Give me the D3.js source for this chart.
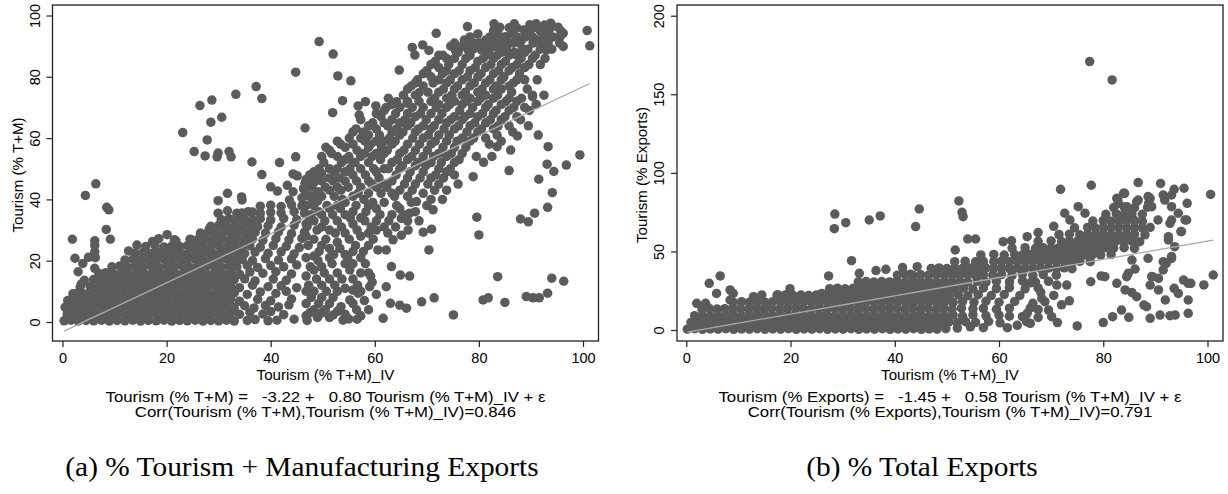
<!DOCTYPE html>
<html>
<head>
<meta charset="utf-8">
<script src="https://cdn.jsdelivr.net/npm/d3@7"></script>
<style>
    html, body { margin: 0; padding: 0; background: #fff; }
    svg { display: block; }
    .sans { font-family: "Liberation Sans", Arial, Helvetica, sans-serif; fill: #000; }
    .caption { font-family: "Liberation Serif", "Times New Roman", serif; fill: #000; }
</style>
</head>
<body>
<div id="chart"></div>
<script>
"use strict";

// Axis ticks and annotation text.
const xTicks = [0, 20, 40, 60, 80, 100];
const yTicksA = [0, 20, 40, 60, 80, 100];
const yTicksB = [0, 50, 100, 150, 200];
const xTitle = "Tourism (% T+M)_IV";
const yTitleA = "Tourism (% T+M)";
const yTitleB = "Tourism (% Exports)";
const fitA = [-3.22, 0.80]; // intercept, slope
const fitB = [-1.45, 0.58];
const notesA = [
    "Tourism (% T+M) =   -3.22 +   0.80 Tourism (% T+M)_IV + \u03b5",
    "Corr(Tourism (% T+M),Tourism (% T+M)_IV)=0.846"
];
const notesB = [
    "Tourism (% Exports) =   -1.45 +   0.58 Tourism (% T+M)_IV + \u03b5",
    "Corr(Tourism (% Exports),Tourism (% T+M)_IV)=0.791"
];
const captionA = "(a) % Tourism + Manufacturing Exports";
const captionB = "(b) % Total Exports";

// Panel (a): [IV share, tourism % of T+M]. The solid low cloud first.
const denseA = [
    [0.3,0.4],[1.6,0.6],[3,0.3],[4.5,0.5],[6,0.4],[7.5,0.6],[9,0.3],[10.5,0.5],[12,0.4],[13.5,0.6],[15,0.3],[16.5,0.5],[18,0.4],[19.5,0.6],[21,0.3],[22.5,0.5],[24,0.4],[25.5,0.6],[27,0.3],[28.5,0.5],[30,0.4],[31.5,0.6],[33,0.3],[35.5,0.5],[37,0.8],[39.5,0.4],[41.2,0.6],[44.5,0.9],[47,0.5],
    [0.9,2.6],[2.3,2.8],[3.8,2.5],[5.3,2.9],[6.8,2.6],[8.3,2.8],[9.8,2.5],[11.3,2.9],[12.8,2.6],[14.3,2.8],[15.8,2.5],[17.3,2.9],[18.8,2.6],[20.3,2.8],[21.8,2.5],[23.3,2.9],[24.8,2.6],[26.3,2.8],[27.8,2.5],[29.3,2.9],[30.8,2.6],[32.3,2.8],[34,2.5],[36,3.2],[38.5,2.6],[40,3.4],[42.5,2.4],
    [0.5,4.8],[1.6,5.1],[3,4.7],[4.5,5],[6,4.8],[7.5,5.1],[9,4.7],[10.5,5],[12,4.8],[13.5,5.1],[15,4.7],[16.5,5],[18,4.8],[19.5,5.1],[21,4.7],[22.5,5],[24,4.8],[25.5,5.1],[27,4.7],[28.5,5],[30,4.8],[31.5,5.1],[33,4.7],[35,5.3],[36.8,4.6],[39,5.4],[41.5,4.9],[43.5,5.6],
    [1,7],[2.3,7.3],[3.8,6.9],[5.3,7.2],[6.8,7],[8.3,7.3],[9.8,6.9],[11.3,7.2],[12.8,7],[14.3,7.3],[15.8,6.9],[17.3,7.2],[18.8,7],[20.3,7.3],[21.8,6.9],[23.3,7.2],[24.8,7],[26.3,7.3],[27.8,6.9],[29.3,7.2],[30.8,7],[32.3,7.3],[34,6.8],[37.5,7.4],[40,6.9],[44,7.5],
    [2,9.2],[3,9.5],[4.5,9.1],[6,9.4],[7.5,9.2],[9,9.5],[10.5,9.1],[12,9.4],[13.5,9.2],[15,9.5],[16.5,9.1],[18,9.4],[19.5,9.2],[21,9.5],[22.5,9.1],[24,9.4],[25.5,9.2],[27,9.5],[28.5,9.1],[30,9.4],[31.5,9.2],[33,9.5],[35.5,9],[38,9.8],[41,9.3],[43,10],
    [3.4,11.4],[5.3,11.7],[6.8,11.3],[8.3,11.6],[9.8,11.4],[11.3,11.7],[12.8,11.3],[14.3,11.6],[15.8,11.4],[17.3,11.7],[18.8,11.3],[20.3,11.6],[21.8,11.4],[23.3,11.7],[24.8,11.3],[26.3,11.6],[27.8,11.4],[29.3,11.7],[30.8,11.3],[32.3,11.6],[34,11.2],[36.5,12],[39.5,11.5],[42,11.8],[45,11.2],
    [4.2,13.6],[6,13.9],[7.5,13.5],[9,13.8],[10.5,13.6],[12,13.9],[13.5,13.5],[15,13.8],[16.5,13.6],[18,13.9],[19.5,13.5],[21,13.8],[22.5,13.6],[24,13.9],[25.5,13.5],[27,13.8],[28.5,13.6],[30,13.9],[31.5,13.5],[33,13.8],[35,14.1],[37,13.4],[40.5,14],[43,13.6],
    [7,15.8],[8.3,16.1],[9.8,15.7],[11.3,16],[12.8,15.8],[14.3,16.1],[15.8,15.7],[17.3,16],[18.8,15.8],[20.3,16.1],[21.8,15.7],[23.3,16],[24.8,15.8],[26.3,16.1],[27.8,15.7],[29.3,16],[30.8,15.8],[32.3,16.1],[34,15.6],[36,16.3],[38.5,15.9],[41,16.4],[44,15.7],
    [9.5,18],[11,18.3],[12.5,17.9],[14,18.2],[15.5,18],[17,18.3],[18.5,17.9],[20,18.2],[21.5,18],[23,18.3],[24.5,17.9],[26,18.2],[27.5,18],[29,18.3],[30.5,17.9],[32,18.2],[33.5,18],[35.5,18.5],[37.5,17.8],[40,18.4],[42.5,18],[45,18.6],
    [12,20.2],[13.5,20.5],[15,20.1],[16.5,20.4],[18,20.2],[19.5,20.5],[21,20.1],[22.5,20.4],[24,20.2],[25.5,20.5],[27,20.1],[28.5,20.4],[30,20.2],[31.5,20.5],[33,20.1],[34.5,20.4],[36.5,20],[39,20.7],[41.5,20.2],[44,20.6],
    [14,22.4],[15.5,22.7],[17,22.3],[18.5,22.6],[20,22.4],[21.5,22.7],[23,22.3],[24.5,22.6],[26,22.4],[27.5,22.7],[29,22.3],[30.5,22.6],[32,22.4],[33.5,22.7],[35,22.3],[37,22.8],[39.5,22.4],[42,22.9],[44.5,22.2],
    [16,24.6],[17.8,24.9],[19.5,24.5],[21,24.8],[22.5,24.6],[24,24.9],[25.5,24.5],[27,24.8],[28.5,24.6],[30,24.9],[31.5,24.5],[33,24.8],[34.5,24.6],[36,24.9],[38,24.4],[40.5,25],[43,24.7],[45.5,24.3],
    [21.5,26.8],[24.5,27],[26,26.7],[27.5,27.1],[29,26.8],[30.5,27],[32,26.7],[33.5,27.1],[35,26.8],[36.5,27],[38.5,26.6],[41,27.2],[43.5,26.8],[46,27.3],
    [26.5,29],[28,29.3],[29.5,28.9],[31,29.2],[32.5,29],[34,29.3],[35.5,28.9],[37,29.2],[39,29],[41.5,29.4],[44,28.8],[46.5,29.3],
    [28.5,31.2],[30,31.5],[31.5,31.1],[33,31.4],[34.5,31.2],[36,31.5],[37.5,31.1],[39.5,31.4],[42,31],[44.5,31.6],[47,31.2],
    [30.5,33.4],[32,33.7],[33.5,33.3],[35,33.6],[36.5,33.4],[38,33.7],[40,33.3],[42.5,33.8],[45,33.4],[47.5,33.7],
    [34.5,35.6],[36.5,35.9],[38,35.5],[40,35.8],[42,35.6],[44.5,36],[46.5,35.5],
    [38,37.8],[40,38.1],[42,37.7],[44,38.2],[46,37.9],[48,38.3]
];

// Panel (a): the rising band of mid and high tourism shares.
const bandA = [
    [46,40.5],[46.3,43.5],
    [46.8,2],[46.8,6],[46.8,10],[46.8,15],[46.8,21],[46.8,28],[46.8,32],[46.8,38],[46.8,42],[46.8,46.5],
    [47.5,3],[47.8,8],[47.3,12],[47.6,18],[47.2,25],[47.7,35],[47.4,41],[47.9,44],[47.5,48],
    [48.3,4],[48.3,10],[48.3,17],[48.3,21.5],[48.3,27],[48.3,33],[48.3,38],[48.3,41],[48.3,45.5],[48.3,49],
    [49,1.5],[49.2,6],[48.8,14],[49.1,20],[49.3,23],[48.9,30],[49.2,36],[49,39.5],[49.1,42.5],[48.8,47],[49.3,50],
    [49.8,3],[49.8,8],[49.8,12],[49.8,18],[49.8,25],[49.8,31],[49.8,35],[49.8,41],[49.8,46],[49.8,48.5],[49.8,54],
    [50.5,4],[50.7,10],[50.3,16],[50.6,27],[50.4,33],[50.8,38],[50.5,44],[50.2,52],[50.6,57],
    [51.3,1.5],[51.3,6],[51.3,14],[51.3,21],[51.3,24],[51.3,30],[51.3,37],[51.3,43],[51.3,47],[51.3,50],[51.3,56],
    [52,8],[52.3,12],[51.8,19],[52.1,22],[52.4,29],[51.9,35],[52.2,41],[52,46],[52.3,49],[51.7,55],
    [52.8,3.5],[52.8,10],[52.8,16],[52.8,26],[52.8,33],[52.8,38],[52.8,44],[52.8,50],[52.8,54],[52.8,59],
    [53.5,5],[53.7,14],[53.3,24],[53.6,31],[53.4,37],[53.8,40],[53.5,43],[53.2,47],[53.6,52],[53.4,58],
    [54.3,2.5],[54.3,11],[54.3,19],[54.3,22],[54.3,29],[54.3,35],[54.3,39],[54.3,46],[54.3,49],[54.3,53],[54.3,57],
    [55,1],[55.2,17],[54.8,21],[55.1,27],[55.3,34],[54.9,44],[55.2,50],[55,54],[55.1,60],
    [55.8,6],[55.8,14],[55.8,19],[55.8,23],[55.8,32],[55.8,36],[55.8,41],[55.8,48],[55.8,52],[55.8,58],[55.8,62],
    [56.5,4],[56.7,12],[56.3,25],[56.6,30],[56.4,38],[56.8,42],[56.5,46],[56.2,52],[56.6,56],[56.4,63],
    [57.3,2],[57.3,10],[57.3,16],[57.3,21],[57.3,28],[57.3,34],[57.3,44],[57.3,50],[57.3,54],[57.3,60],[57.3,66],
    [58,7],[58.2,19],[57.8,23],[58.1,33],[58.3,36],[57.9,40],[58.2,48],[58,55],[58.1,59],[57.8,62],
    [58.8,4],[58.8,16],[58.8,25],[58.8,29],[58.8,38],[58.8,42],[58.8,46],[58.8,52],[58.8,57],[58.8,61],[58.8,64],
    [59.5,13],[59.7,27],[59.3,31],[59.6,39],[59.4,45],[59.8,50],[59.5,54],[59.2,58],[59.6,65],
    [60.3,9],[60.3,30],[60.3,33],[60.3,37],[60.3,44],[60.3,49],[60.3,55],[60.3,59],[60.3,63],[60.3,68],
    [61,35],[61.2,42],[60.8,47],[61.1,53],[61.3,57],[60.9,61],[61.2,67],
    [61.8,31],[61.8,39],[61.8,45],[61.8,50],[61.8,55],[61.8,59],[61.8,65],[61.8,69],
    [62.5,29],[62.7,33],[62.3,44],[62.6,50],[62.4,56],[62.8,60],[62.5,64],[62.2,70],
    [63.3,35],[63.3,42],[63.3,46],[63.3,52],[63.3,58],[63.3,62],[63.3,66],[63.3,71],
    [64,31],[64.2,38],[63.8,41],[64.1,48],[64.3,53],[63.9,59],[64.2,63],[64,68],
    [64.8,37],[64.8,43],[64.8,50],[64.8,55],[64.8,61],[64.8,65],[64.8,70],
    [65.5,35],[65.7,45],[65.3,51],[65.6,56],[65.4,62],[65.8,66],[65.5,74],
    [66.3,33],[66.3,41],[66.3,47],[66.3,53],[66.3,58],[66.3,64],[66.3,68],[66.3,72],[66.3,76],
    [67,39],[67.2,43],[66.8,49],[67.1,54],[67.3,60],[66.9,65],[67.2,70],[67,77],
    [67.8,36],[67.8,45],[67.8,51],[67.8,56],[67.8,62],[67.8,67],[67.8,74],[67.8,78],
    [68.5,33],[68.7,47],[68.3,52],[68.6,58],[68.4,63],[68.8,68],[68.5,72],[68.2,79],
    [69.3,42],[69.3,49],[69.3,54],[69.3,60],[69.3,64],[69.3,70],[69.3,77],[69.3,81],
    [70,38],[70.2,45],[69.8,51],[70.1,56],[70.3,61],[69.9,66],[70.2,75],[70,82],
    [70.8,40],[70.8,47],[70.8,52],[70.8,58],[70.8,63],[70.8,68],[70.8,72],[70.8,80],[70.8,84],
    [71.5,43],[71.7,48],[71.3,54],[71.6,59],[71.4,64],[71.8,70],[71.5,73],[71.2,78],[71.6,85],
    [72.3,45],[72.3,50],[72.3,55],[72.3,61],[72.3,66],[72.3,71],[72.3,75],[72.3,79],[72.3,83],[72.3,87],
    [73,40],[73.2,47],[72.8,52],[73.1,57],[73.3,63],[72.9,68],[73.2,76],[73,81],[73.1,87],
    [73.8,43],[73.8,49],[73.8,54],[73.8,59],[73.8,65],[73.8,70],[73.8,73],[73.8,78],[73.8,82],[73.8,86],
    [74.5,50],[74.7,55],[74.3,61],[74.6,66],[74.4,71],[74.8,74],[74.5,79],[74.2,84],[74.6,90],
    [75.3,48],[75.3,52],[75.3,57],[75.3,63],[75.3,67],[75.3,72],[75.3,76],[75.3,81],[75.3,86],[75.3,91],
    [76,45],[76.2,53],[75.8,59],[76.1,64],[76.3,69],[75.9,77],[76.2,82],[76,88],
    [76.8,55],[76.8,60],[76.8,66],[76.8,71],[76.8,74],[76.8,79],[76.8,84],[76.8,90],
    [77.5,57],[77.7,62],[77.3,67],[77.6,72],[77.4,75],[77.8,80],[77.5,86],[77.2,92],
    [78.3,59],[78.3,64],[78.3,68],[78.3,73],[78.3,77],[78.3,82],[78.3,87],[78.3,93],
    [79,60],[79.2,65],[78.8,70],[79.1,78],[79.3,83],[78.9,89],
    [79.8,62],[79.8,67],[79.8,72],[79.8,75],[79.8,80],[79.8,85],[79.8,91],[79.8,94],
    [80.5,63],[80.7,68],[80.3,73],[80.6,76],[80.4,81],[80.8,86],[80.5,91],
    [81.3,60],[81.3,65],[81.3,70],[81.3,74],[81.3,78],[81.3,83],[81.3,87],[81.3,92],
    [82,58],[82.2,66],[81.8,71],[82.1,79],[82.3,84],[81.9,88],[82.1,93],
    [82.8,63],[82.8,68],[82.8,73],[82.8,76],[82.8,81],[82.8,86],[82.8,90],[82.8,95],
    [83.5,61],[83.7,64],[83.3,69],[83.6,74],[83.4,77],[83.8,82],[83.5,87],[83.2,90],[83.6,95],
    [84.3,59],[84.3,66],[84.3,71],[84.3,76],[84.3,79],[84.3,84],[84.3,88],[84.3,92],
    [85,67],[85.2,72],[84.8,80],[85.1,85],[85.3,89],[84.9,93],
    [85.8,64],[85.8,69],[85.8,73],[85.8,77],[85.8,82],[85.8,87],[85.8,91],[85.8,96],
    [86.5,62],[86.7,70],[86.3,75],[86.6,78],[86.4,83],[86.8,88],[86.5,94],
    [87.3,67],[87.3,72],[87.3,79],[87.3,84],[87.3,87],[87.3,93],[87.3,96],
    [88,66],[88.2,73],[87.8,81],[88.1,86],[88.3,89],
    [88.8,70],[88.8,79],[88.8,83],[88.8,88],[88.8,93],
    [89.5,64],[89.7,69],[89.3,76],[89.6,84],[89.4,89],[89.8,97],
    [90.3,74],[90.3,86],[90.3,93],
    [91,71],[91.2,79],[90.8,87],[91.1,92],
    [91.8,84],[91.8,89],[91.8,95],
    [92.5,74],[92.7,86],[92.3,94],
    [93.3,91],[93.3,95],
    [94,89],[94.2,93],[93.8,97.5],
    [95.5,91],[95.7,95]
];

// Panel (a): isolated points away from the main cloud.
const outliersA = [
    [44.8,81.5],[37.2,76.8],[38.3,72.9],[33.3,74.3],[28.7,72.4],[26.4,70.6],[30.6,66.8],[28.5,65.2],[23.1,61.8],[27.8,59.4],[46.6,63.3],
    [25.3,55.6],[27.4,54.2],[29.9,55.1],[29.7,53.9],[32,55.6],[32.4,53.9],[36.4,52.2],[41.7,52],[44.8,53.9],[38.3,48.1],[44.3,48.3],[45.1,47.7],
    [40,44.1],[41.3,42.7],[43.2,44.6],[44.3,42.5],[46.6,45.3],[31.7,42],[29.9,39.6],[34.4,40.8],[34.5,39.8],[43.6,39.8],
    [6.4,45.1],[4.4,41.3],[8.5,37.4],[8.9,36.6],[8.4,30.2],[9.2,27],[1.9,27],[6.2,26.5],[6.2,25],[6.2,22.9],[6.3,21],[6.2,17.5],
    [5,21.1],[2.4,20.8],[3.9,19.1],[3,16.4],[3.6,12.4],[12.7,23.2],[14.3,25.1],[17.3,26.3],[18.5,27.2],[20.1,28.5],[21.8,26.4],
    [29.9,35.5],[31.7,36.3],[33.5,35.5],[35.7,36],[28.2,30.4],[24.8,26.8],[26.4,27.8],
    [100.8,95.1],[101.3,90.1],[99.4,54.5],[96.8,51.2],[94.4,49.1],[93.1,51.5],[91.5,46.6],[94.1,42.2],[93.2,37.4],[90.7,35.5],[89.5,32.7],[88,33.6],
    [93.3,57.2],[91.4,61],[90.3,73.5],[85.8,49.4],[86.1,56.1],[87.4,60.7],[83.5,57.2],[82.5,54],[80.9,52.1],[79.5,54],[78.9,47.4],[79.6,34.2],[80,28.4],
    [71.2,36.6],[70.9,30.3],[69.3,29.3],[70.4,23.5],[68,39.3],[66.7,35.5],[65.1,33.8],[66.4,30],[65.1,28.3],[63.5,26.8],[62.2,23.5],[60.6,23.5],
    [59.2,15],[59,11.5],[66.7,15],[64.9,15.3],[63.2,18.1],[62.2,11.5],[69,6.6],[71.4,7.9],[80.8,7.2],[81.8,7.9],[83.6,14.8],[85,6.4],
    [89.1,8.3],[90.4,7.9],[91.6,7.9],[93.2,9.4],[94,14.3],[96.3,13.3],[75.1,2.3],[61.6,1.2],[63,6.1],[64.8,5.5],[66.1,4.5],
    [55.2,7.2],[55.8,10.4],[56.8,9.4],[53.9,0.6],[52,2.3],[56.6,0.9],[96.2,89.9],
    [77.8,96.4],[82.9,97.3],[84,96.2],[86.8,97.3],[88.6,95.3],[89.6,94.2],[90.4,95.9],[91,97.3],[92.6,96.9],[93.7,95.9],[95.2,96.2],[96.2,94.2],
    [95.6,93.1],[93.3,93.1],[92.3,91.5],[92,89.9],[93,88.8],[90.4,91],[89.1,93.1],[88.2,92],[87.9,91],[86.6,91],[85.3,89.9],[84.3,90.4],
    [85.3,93.1],[83.4,93.7],[82.7,92],[81.5,89.9],[80.5,88.8],[78.9,91],[77.9,90.4],[77.9,88.8],[71.8,94.2],[75.5,88.6],
    [67.2,89.6],[67.7,87.1],[69.2,90.4],[70.4,88.6],
    [51.9,68.3],[53.8,72.2],[56.8,70.5],[58.2,71.9],[57,67.5],[60.2,70.5],[62.6,73],[64.2,71.9],[66.2,71.4],[68.5,74.8],
    [64.7,82.2],[52.9,80.3],[55.4,78.7],[52,87.4],[49.3,91.5]
];

// Panel (b): [IV share, tourism % of total exports]. Low cloud.
const denseB = [
    [0.2,0.5],[1.6,0.8],[3.1,0.4],[4.6,0.7],[6.1,0.5],[7.6,0.8],[9.1,0.4],[10.6,0.7],[12.1,0.5],[13.6,0.8],[15.1,0.4],[16.6,0.7],[18.1,0.5],[19.6,0.8],[21.1,0.4],[22.6,0.7],[24.1,0.5],[25.6,0.8],[27.1,0.4],[28.6,0.7],[30.1,0.5],[31.6,0.8],[33.1,0.4],[34.6,0.7],[36.1,0.5],[37.6,0.8],[39.1,0.4],[40.6,0.7],[42.1,0.5],[43.6,0.8],[45.1,0.4],[46.6,0.7],[48.1,0.5],[49.8,0.8],[52,1.2],[54.5,2],[57,1.5],
    [0.9,4.8],[2.4,5.1],[3.9,4.7],[5.4,5],[6.9,4.8],[8.4,5.1],[9.9,4.7],[11.4,5],[12.9,4.8],[14.4,5.1],[15.9,4.7],[17.4,5],[18.9,4.8],[20.4,5.1],[21.9,4.7],[23.4,5],[24.9,4.8],[26.4,5.1],[27.9,4.7],[29.4,5],[30.9,4.8],[32.4,5.1],[33.9,4.7],[35.4,5],[36.9,4.8],[38.4,5.1],[39.9,4.7],[41.4,5],[42.9,4.8],[44.4,5.1],[45.9,4.7],[47.4,5],[48.9,4.8],[50.4,5.1],[52,4.6],[53.6,5.3],[55.5,4.8],[58,5.4],[60.2,4.6],
    [1.6,9.1],[3.1,9.4],[4.6,9],[6.1,9.3],[7.6,9.1],[9.1,9.4],[10.6,9],[12.1,9.3],[13.6,9.1],[15.1,9.4],[16.6,9],[18.1,9.3],[19.6,9.1],[21.1,9.4],[22.6,9],[24.1,9.3],[25.6,9.1],[27.1,9.4],[28.6,9],[30.1,9.3],[31.6,9.1],[33.1,9.4],[34.6,9],[36.1,9.3],[37.6,9.1],[39.1,9.4],[40.6,9],[42.1,9.3],[43.6,9.1],[45.1,9.4],[46.6,9],[48.1,9.3],[49.6,9.1],[51.2,9.5],[53,8.8],[55,9.6],[57.5,9],[60,9.4],[62,8.8],
    [3,13.4],[4.4,13.7],[5.9,13.3],[7.4,13.6],[8.9,13.4],[10.4,13.7],[11.9,13.3],[13.4,13.6],[14.9,13.4],[16.4,13.7],[17.9,13.3],[19.4,13.6],[20.9,13.4],[22.4,13.7],[23.9,13.3],[25.4,13.6],[26.9,13.4],[28.4,13.7],[29.9,13.3],[31.4,13.6],[32.9,13.4],[34.4,13.7],[35.9,13.3],[37.4,13.6],[38.9,13.4],[40.4,13.7],[41.9,13.3],[43.4,13.6],[44.9,13.4],[46.4,13.7],[47.9,13.3],[49.4,13.6],[51,13.2],[52.8,13.9],[55,13.4],[57,13.8],[59.5,13.2],[62,13.9],
    [9,17.7],[10.6,18],[12.1,17.6],[13.6,17.9],[15.1,17.7],[16.6,18],[18.1,17.6],[19.6,17.9],[21.1,17.7],[22.6,18],[24.1,17.6],[25.6,17.9],[27.1,17.7],[28.6,18],[30.1,17.6],[31.6,17.9],[33.1,17.7],[34.6,18],[36.1,17.6],[37.6,17.9],[39.1,17.7],[40.6,18],[42.1,17.6],[43.6,17.9],[45.1,17.7],[46.6,18],[48.1,17.6],[49.6,17.9],[51.2,17.5],[53,18.2],[55.2,17.6],[57.5,18.3],[60,17.7],[63,18.2],
    [17.4,22],[19,22.3],[20.5,21.9],[22,22.2],[23.5,22],[25,22.3],[26.5,21.9],[28,22.2],[29.5,22],[31,22.3],[32.5,21.9],[34,22.2],[35.5,22],[37,22.3],[38.5,21.9],[40,22.2],[41.5,22],[43,22.3],[44.5,21.9],[46,22.2],[47.5,22],[49,22.3],[50.5,21.9],[52.2,22.4],[54,21.8],[56,22.5],[58.5,21.9],[61,22.6],[64,22],
    [27.5,26.3],[29,26.6],[30.5,26.2],[32,26.5],[33.5,26.3],[35,26.6],[36.5,26.2],[38,26.5],[39.5,26.3],[41,26.6],[42.5,26.2],[44,26.5],[45.5,26.3],[47,26.6],[48.5,26.2],[50,26.5],[51.5,26.3],[53.2,26.7],[55,26.1],[57,26.8],[59.5,26.3],[62,26.9],[65,26.2],[67.5,26.8],
    [33,30.6],[34.5,30.9],[36,30.5],[37.5,30.8],[39,30.6],[40.5,30.9],[42,30.5],[43.5,30.8],[45,30.6],[46.5,30.9],[48,30.5],[49.5,30.8],[51,30.6],[52.5,30.9],[54,30.5],[55.8,31],[57.5,30.4],[59.5,31.1],[62,30.6],[64.5,31.2],[67,30.5],[69.5,31],
    [40.5,34.9],[42,35.2],[43.5,34.8],[45,35.1],[46.5,34.9],[48,35.2],[49.5,34.8],[51,35.1],[52.5,34.9],[54,35.2],[55.5,34.8],[57,35.1],[58.8,34.9],[60.5,35.3],[62.5,34.7],[64.5,35.4],[66.5,34.8],[68.5,35.3],[71,34.9]
];

// Panel (b): the band above 40 per cent.
const bandB = [
    [47,39.2],[48.5,39.5],[50,39.1],[51.5,39.4],[53,39.2],[54.5,39.5],[56,39.1],[57.5,39.4],[59,39.2],[60.5,39.5],[62,39.1],[63.5,39.4],[65,39.2],[66.5,39.5],[68,39.1],[69.5,39.4],[71,39.2],[72.5,39.6],[74,39],
    [51.5,43.5],[53.5,43.8],[55.5,43.4],[57,43.7],[59,43.5],[60.5,43.8],[62,43.4],[63.5,43.7],[65,43.5],[66.5,43.8],[68,43.4],[69.5,43.7],[71,43.5],[72.5,43.8],[74,43.4],[75.5,43.7],[77.5,43.5],
    [56.5,47.8],[59,48.1],[61,47.7],[63,48],[64.5,47.8],[66,48.1],[67.5,47.7],[69,48],[70.5,47.8],[72,48.1],[73.5,47.7],[75,48],[76.5,47.8],[78,48.1],[79.5,47.7],[81.5,48],
    [62.5,52.1],[65,52.4],[67,52],[68.5,52.3],[70,52.1],[71.5,52.4],[73,52],[74.5,52.3],[76,52.1],[77.5,52.4],[79,52],[80.5,52.3],[82,52.1],[84,52.4],[86,52],
    [67.5,56.4],[70,56.7],[72,56.3],[73.5,56.6],[75,56.4],[76.5,56.7],[78,56.3],[79.5,56.6],[81,56.4],[82.5,56.7],[84,56.3],[85.5,56.6],[87,56.2],
    [71.5,60.7],[73.5,61],[75.5,60.6],[77,60.9],[78.5,60.7],[80,61],[81.5,60.6],[83,60.9],[84.5,60.7],[86,61],[88,60.6],
    [74.5,65],[77,65.3],[78.5,64.9],[80,65.2],[81.5,65],[83,65.3],[84.5,64.9],[86,65.2],[87.5,65],[89,65.3],
    [78,69.3],[80,69.6],[81.5,69.2],[83,69.5],[84.5,69.3],[86,69.6],[87.5,69.2],
    [80.5,73.6],[82.5,73.9],[84,73.5],[85.5,73.8],[87.5,73.6],
    [82,77.9],[84,78.2],[86,77.8],[88.5,78.1]
];

// Panel (b): isolated points.
const outliersB = [
    [28.5,73.8],[28.4,64.5],[30.6,68.3],[35.1,70],[37.2,72.6],[44.7,77],[44,65.8],[31.7,44.1],[27.3,34.4],[33.2,36.1],[36.4,37.8],[38.3,38.6],
    [41.5,39.7],[44.3,40.3],[43,35.4],[4.4,29.7],[6.5,34.4],[5.8,23.3],[8.4,25.5],[9,23.3],[8.4,19.1],[2,17],[3.7,17],[12.9,21.2],[14.5,22.3],
    [17.5,22.5],[19.9,26.3],[26,23.3],[39.7,29.7],
    [77.4,170.8],[81.7,159.1],[71.8,89.5],[77.7,92.1],[86.7,93.8],[91,93.3],[93.6,89.5],[95.5,90.2],[100.6,86.3],[101.1,35],[99.3,28.7],
    [52.3,82.1],[52.9,74.9],[53.1,72.1],[54,57.9],[55.5,57.9],[61.6,1.5],[75,2.6],
    [96.1,80.6],[93.1,85.9],[91.5,85.9],[89,83.8],[88.7,80.6],[86.4,81.6],[83.9,87],[82.6,83.8],[82.9,80.6],[84.5,78.5],[96,70],[94.9,62.6],
    [92.8,67.9],[92.5,59.4],[93.1,45.6],[91.5,43.5],[91.5,38.2],[89.4,33.9],[90.6,32.9],[89,28.6],[90.6,25.5],[91.9,19.1],[93.6,26.5],[94.4,23.3],
    [96.3,19.1],[96.3,10.6],[93.8,9.5],[92.8,9.1],[90.9,9.5],[89,7.4],[88.3,14.8],[87.8,15.9],[86.4,21.2],[85.5,23.8],[85.5,44.5],[86.1,38.8],
    [84.8,36.1],[84.5,33.9],[82.6,29.7],[84.2,25.5],[83.5,12.7],[81.8,8.5],[80,4.7],[84.9,8.1],[73.5,18.6],[71.2,4.7],[70.1,8.5],[69.5,12.7],
    [68.8,18],[68.2,20.1],[65.3,5.3],[66,4.2],[65.4,10.6],[77.6,30.7],[79.6,34.4],[80.3,33.9],[73,28.6],[71.1,28.6],[96.8,29.7],[95.4,31.8],
    [60.8,56.2],[62.4,56.8],[65.4,59.4],[51.6,50.9],
    [66,14],[67.5,8],[63.5,3],[64.5,8.5],[66.5,17],[68,24],[70.5,22],[72,16],[66,30],[67.5,13],
    [82.8,82.7],[84.1,87],[86.7,82.7],[88.6,84.9],[89.3,78.5],[91.8,82.7],[93.1,78.5],[94.4,74.3],[93.1,70],[95.7,70],[90.5,70],[95,62.6],
    [92.5,57.3],[93.7,53],[93.1,46.7],[92.1,42.4],[88.6,45.6],[89.3,34],[96.3,29.7],
    [75.2,78.5],[76.5,74.3],[72.6,74.3],[73.6,70],[70.5,66],[67.5,62]
];

(function () {
    const width = 1228;
    const height = 494;
    const dotColor = "#5b5b5b";
    const fitColor = "#aaaaaa";
    const frameColor = "#222";

    const panels = [
        {
            points: denseA.concat(bandA, outliersA),
            frame: { left: 52.5, top: 5, right: 598.5, bottom: 341 },
            xRange: [62.5, 583],
            yDomain: [0, 100],
            yRange: [322, 15.5],
            yTicks: yTicksA,
            yTitle: yTitleA,
            yTitleX: 23,
            fit: fitA,
            notes: notesA,
            caption: captionA,
            captionX: 302
        },
        {
            points: denseB.concat(bandB, outliersB),
            frame: { left: 677, top: 5, right: 1223, bottom: 341 },
            xRange: [686.3, 1207.5],
            yDomain: [0, 200],
            yRange: [330, 15.7],
            yTicks: yTicksB,
            yTitle: yTitleB,
            yTitleX: 647,
            fit: fitB,
            notes: notesB,
            caption: captionB,
            captionX: 922
        }
    ];

    const svg = d3.select("#chart")
        .append("svg")
        .attr("width", width)
        .attr("height", height)
        .attr("viewBox", `0 0 ${width} ${height}`);

    svg.append("rect")
        .attr("width", width)
        .attr("height", height)
        .attr("fill", "#fff");

    panels.forEach((p) => {
        const f = p.frame;
        const x = d3.scaleLinear().domain([0, 100]).range(p.xRange);
        const y = d3.scaleLinear().domain(p.yDomain).range(p.yRange);
        const g = svg.append("g");

        g.append("g")
            .selectAll("circle")
            .data(p.points)
            .join("circle")
            .attr("cx", (d) => x(d[0]))
            .attr("cy", (d) => y(d[1]))
            .attr("r", 4.75)
            .attr("fill", dotColor);

        // Fitted line over the observed range of the instrument.
        const [xMin, xMax] = d3.extent(p.points, (d) => d[0]);
        const fitLine = d3.line()
            .x((d) => x(d))
            .y((d) => y(p.fit[0] + p.fit[1] * d));

        g.append("path")
            .attr("d", fitLine([xMin, xMax]))
            .attr("fill", "none")
            .attr("stroke", fitColor)
            .attr("stroke-width", 1.3);

        g.append("rect")
            .attr("x", f.left)
            .attr("y", f.top)
            .attr("width", f.right - f.left)
            .attr("height", f.bottom - f.top)
            .attr("fill", "none")
            .attr("stroke", frameColor)
            .attr("stroke-width", 1.3);

        const xAxis = g.append("g")
            .attr("transform", `translate(0,${f.bottom})`)
            .call(d3.axisBottom(x).tickValues(xTicks).tickSize(6).tickPadding(5.5));

        const yAxis = g.append("g")
            .attr("transform", `translate(${f.left},0)`)
            .call(d3.axisLeft(y).tickValues(p.yTicks).tickSize(6));

        [xAxis, yAxis].forEach((axis) => {
            axis.select(".domain").remove();
            axis.attr("font-family", null).attr("font-size", null);
            axis.selectAll(".tick line").attr("stroke", frameColor).attr("stroke-width", 1.2);
            axis.selectAll(".tick text")
                .attr("class", "sans")
                .attr("font-size", 14.5)
                .attr("fill", "#000");
        });

        yAxis.selectAll(".tick text")
            .attr("transform", "rotate(-90)")
            .attr("x", 0)
            .attr("y", -13)
            .attr("dy", null)
            .attr("text-anchor", "middle");

        const cx = (f.left + f.right) / 2;
        const cy = (f.top + f.bottom) / 2;

        // Stata's text in the figure is a little wider than plain Arial.
        g.append("text")
            .attr("class", "sans")
            .attr("transform", `translate(${cx},379.5) scale(1.08,1)`)
            .attr("text-anchor", "middle")
            .attr("font-size", 14)
            .text(xTitle);

        g.append("text")
            .attr("class", "sans")
            .attr("transform", `translate(${p.yTitleX},${cy + 2}) rotate(-90) scale(1.08,1)`)
            .attr("text-anchor", "middle")
            .attr("font-size", 14)
            .text(p.yTitle);

        g.selectAll(".note")
            .data(p.notes)
            .join("text")
            .attr("class", "sans note")
            .attr("transform", (d, i) => `translate(${cx},${402 + i * 14.5}) scale(1.2,1)`)
            .attr("text-anchor", "middle")
            .attr("font-size", 14)
            .style("white-space", "pre")
            .text((d) => d);

        g.append("text")
            .attr("class", "caption")
            .attr("transform", `translate(${p.captionX},476) scale(1.05,1)`)
            .attr("text-anchor", "middle")
            .attr("font-size", 28)
            .text(p.caption);
    });
}());
</script>
</body>
</html>
